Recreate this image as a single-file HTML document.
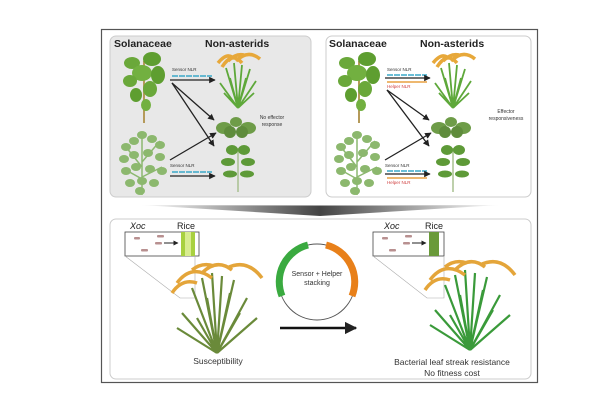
<!DOCTYPE html>
<html><head><meta charset="utf-8"><style>
html,body{margin:0;padding:0;background:#fff;}
svg{display:block;font-family:"Liberation Sans",Arial,sans-serif;}
</style></head><body>
<svg width="615" height="417" viewBox="0 0 615 417" xmlns="http://www.w3.org/2000/svg">
<defs>
<marker id="ah" viewBox="0 0 10 10" refX="9" refY="5" markerWidth="5" markerHeight="5" orient="auto"><path d="M0,0L10,5L0,10z" fill="#222"/></marker>
<linearGradient id="wedge" x1="0" x2="1"><stop offset="0" stop-color="#fff"/><stop offset="0.5" stop-color="#222"/><stop offset="1" stop-color="#fff"/></linearGradient>
<g id="tree">
 <line x1="22" y1="10" x2="22" y2="72" stroke="#b59a5a" stroke-width="2"/>
 <ellipse cx="10" cy="12" rx="8" ry="6" fill="#6aa83a"/><ellipse cx="30" cy="8" rx="9" ry="7" fill="#5e9e30"/>
 <ellipse cx="20" cy="22" rx="10" ry="8" fill="#72b040"/><ellipse cx="36" cy="24" rx="7" ry="9" fill="#5e9e30"/>
 <ellipse cx="8" cy="30" rx="7" ry="6" fill="#6aa83a"/><ellipse cx="28" cy="38" rx="7" ry="8" fill="#6aa83a"/>
 <ellipse cx="14" cy="44" rx="6" ry="7" fill="#5e9e30"/><ellipse cx="24" cy="54" rx="5" ry="6" fill="#72b040"/>
</g>
<g id="bush">
 <path d="M22,68 L22,10 M22,40 L6,20 M22,35 L40,14 M22,52 L4,42 M22,50 L42,40" stroke="#8cb870" stroke-width="1.5"/>
 <g fill="#8cb86e">
 <ellipse cx="6" cy="20" rx="5" ry="4"/><ellipse cx="14" cy="14" rx="5" ry="4"/><ellipse cx="22" cy="8" rx="5" ry="4"/><ellipse cx="32" cy="12" rx="5" ry="4"/><ellipse cx="40" cy="18" rx="5" ry="4"/>
 <ellipse cx="4" cy="32" rx="5" ry="4"/><ellipse cx="14" cy="28" rx="5" ry="4"/><ellipse cx="28" cy="26" rx="5" ry="4"/><ellipse cx="40" cy="30" rx="5" ry="4"/>
 <ellipse cx="6" cy="44" rx="5" ry="4"/><ellipse cx="16" cy="40" rx="5" ry="4"/><ellipse cx="30" cy="42" rx="5" ry="4"/><ellipse cx="42" cy="44" rx="5" ry="4"/>
 <ellipse cx="10" cy="56" rx="5" ry="4"/><ellipse cx="22" cy="54" rx="5" ry="4"/><ellipse cx="34" cy="56" rx="5" ry="4"/><ellipse cx="20" cy="64" rx="5" ry="4"/>
 </g>
</g>
<g id="rice">
 <path d="M22,55 L10,15 M22,55 L18,10 M22,55 L26,12 M22,55 L34,16 M22,55 L40,28 M22,55 L4,30 M22,55 L14,25 M22,55 L30,25 M22,55 L8,40 M22,55 L38,40" stroke="#5ea83a" stroke-width="1.8" fill="none"/>
 <path d="M6,14 Q16,-2 26,10 M20,8 Q32,-4 44,6 M2,10 Q10,0 16,4 M12,8 Q20,0 28,2" stroke="#e7a83a" stroke-width="3.5" fill="none"/>
</g>
<g id="round">
 <ellipse cx="6" cy="10" rx="8" ry="6" fill="#6e9c48"/><ellipse cx="30" cy="10" rx="8" ry="6" fill="#6e9c48"/>
 <ellipse cx="18" cy="4" rx="6" ry="5" fill="#6e9c48"/><ellipse cx="12" cy="14" rx="6" ry="6" fill="#5f8c3c"/><ellipse cx="24" cy="14" rx="6" ry="6" fill="#5f8c3c"/>
</g>
<g id="soy">
 <line x1="16" y1="4" x2="16" y2="48" stroke="#a8c090" stroke-width="1.5"/>
 <ellipse cx="10" cy="6" rx="6" ry="5" fill="#5e9a38"/><ellipse cx="22" cy="6" rx="6" ry="5" fill="#5e9a38"/>
 <ellipse cx="6" cy="18" rx="7" ry="4" fill="#5e9a38"/><ellipse cx="26" cy="18" rx="7" ry="4" fill="#5e9a38"/>
 <ellipse cx="8" cy="30" rx="7" ry="3.5" fill="#5e9a38"/><ellipse cx="25" cy="30" rx="7" ry="3.5" fill="#5e9a38"/>
</g>
<g id="bigrice">
 <path d="M45,95 L20,30 M45,95 L30,20 M45,95 L40,15 M45,95 L50,18 M45,95 L62,22 M45,95 L75,40 M45,95 L10,55 M45,95 L85,60 M45,95 L5,70 M45,95 L35,40 M45,95 L58,35 M45,95 L25,60 M45,95 L68,55" stroke-width="2.2" fill="none"/>
 <path d="M5,25 Q20,5 40,20 M30,15 Q45,0 60,12 M55,10 Q75,0 90,20 M0,35 Q10,20 25,25 M20,12 Q30,4 42,8" stroke="#e4a53a" stroke-width="3.5" fill="none"/>
</g>
</defs>

<rect x="101.5" y="29.5" width="436" height="353" fill="#fff" stroke="#555" stroke-width="1.2"/>

<rect x="110" y="36" width="201" height="161" rx="6" fill="#e8e8e8" stroke="#ccc"/>
<text x="114" y="47" font-size="10.5" font-weight="bold" fill="#222">Solanaceae</text>
<text x="205" y="47" font-size="10.5" font-weight="bold" fill="#222">Non-asterids</text>
<use href="#tree" x="122" y="51"/>
<use href="#bush" x="120" y="127"/>
<use href="#rice" x="216" y="53"/>
<use href="#round" x="218" y="118"/>
<use href="#soy" x="222" y="144"/>
<text x="172" y="71" font-size="4.5" fill="#333">Sensor NLR</text>
<line x1="172" y1="76" x2="212" y2="76" stroke="#3aa8c8" stroke-width="1.5" stroke-dasharray="6,1"/>
<line x1="170" y1="80" x2="215" y2="80" stroke="#222" stroke-width="1.3" marker-end="url(#ah)"/>
<line x1="172" y1="83" x2="214" y2="120" stroke="#222" stroke-width="1.3" marker-end="url(#ah)"/>
<line x1="172" y1="83" x2="214" y2="146" stroke="#222" stroke-width="1.3" marker-end="url(#ah)"/>
<line x1="170" y1="160" x2="216" y2="133" stroke="#222" stroke-width="1.3" marker-end="url(#ah)"/>
<text x="170" y="167" font-size="4.5" fill="#333">Sensor NLR</text>
<line x1="172" y1="172" x2="212" y2="172" stroke="#3aa8c8" stroke-width="1.5" stroke-dasharray="6,1"/>
<line x1="170" y1="176" x2="215" y2="176" stroke="#222" stroke-width="1.3" marker-end="url(#ah)"/>
<text x="272" y="119" font-size="5" fill="#333" text-anchor="middle">No effector</text>
<text x="272" y="126" font-size="5" fill="#333" text-anchor="middle">response</text>

<rect x="326" y="36" width="205" height="161" rx="6" fill="#fff" stroke="#ccc"/>
<text x="329" y="47" font-size="10.5" font-weight="bold" fill="#222">Solanaceae</text>
<text x="420" y="47" font-size="10.5" font-weight="bold" fill="#222">Non-asterids</text>
<use href="#tree" x="337" y="51"/>
<use href="#bush" x="335" y="127"/>
<use href="#rice" x="431" y="53"/>
<use href="#round" x="433" y="118"/>
<use href="#soy" x="437" y="144"/>
<text x="387" y="71" font-size="4.5" fill="#333">Sensor NLR</text>
<line x1="387" y1="75" x2="427" y2="75" stroke="#3aa8c8" stroke-width="1.5" stroke-dasharray="6,1"/>
<line x1="385" y1="78" x2="430" y2="78" stroke="#222" stroke-width="1.3" marker-end="url(#ah)"/>
<line x1="387" y1="82" x2="427" y2="82" stroke="#e8a040" stroke-width="1.5"/>
<text x="387" y="88" font-size="4.5" fill="#d04040">Helper NLR</text>
<line x1="387" y1="90" x2="429" y2="120" stroke="#222" stroke-width="1.3" marker-end="url(#ah)"/>
<line x1="387" y1="90" x2="429" y2="146" stroke="#222" stroke-width="1.3" marker-end="url(#ah)"/>
<line x1="385" y1="160" x2="431" y2="133" stroke="#222" stroke-width="1.3" marker-end="url(#ah)"/>
<text x="385" y="167" font-size="4.5" fill="#333">Sensor NLR</text>
<line x1="387" y1="171" x2="427" y2="171" stroke="#3aa8c8" stroke-width="1.5" stroke-dasharray="6,1"/>
<line x1="385" y1="174" x2="430" y2="174" stroke="#222" stroke-width="1.3" marker-end="url(#ah)"/>
<line x1="387" y1="178" x2="427" y2="178" stroke="#e8a040" stroke-width="1.5"/>
<text x="387" y="184" font-size="4.5" fill="#d04040">Helper NLR</text>
<text x="506" y="113" font-size="5" fill="#333" text-anchor="middle">Effector</text>
<text x="506" y="120" font-size="5" fill="#333" text-anchor="middle">responsiveness</text>

<path d="M140,205 Q320,206 500,205 L320,216 Z" fill="url(#wedge)" opacity="0.85"/>

<rect x="110" y="219" width="421" height="160" rx="6" fill="#fff" stroke="#ccc"/>
<text x="130" y="229" font-size="9" font-style="italic" fill="#222">Xoc</text>
<text x="177" y="229" font-size="9" fill="#222">Rice</text>
<rect x="125" y="232" width="74" height="24" fill="#fff" stroke="#444" stroke-width="0.8"/>
<rect x="181" y="232" width="14" height="24" fill="#a8d040"/>
<rect x="185" y="232" width="6" height="24" fill="#d8ec90"/>
<g fill="#b89090"><rect x="134" y="237" width="6" height="2.5" rx="1"/><rect x="157" y="235" width="7" height="2.5" rx="1"/><rect x="155" y="242" width="7" height="2.5" rx="1"/><rect x="141" y="249" width="7" height="2.5" rx="1"/></g>
<line x1="164" y1="243" x2="178" y2="243" stroke="#222" stroke-width="1" marker-end="url(#ah)"/>
<polyline points="125,256 180,298 195,298 195,256" fill="none" stroke="#aaa" stroke-width="0.6"/>
<use href="#bigrice" x="172" y="258" stroke="#6a8a3a"/>
<text x="218" y="364" font-size="8.5" fill="#333" text-anchor="middle">Susceptibility</text>

<circle cx="317" cy="282" r="38" fill="none" stroke="#555" stroke-width="1"/>
<path d="M282,296 A38,38 0 0 1 308,245" fill="none" stroke="#3aaa40" stroke-width="7"/>
<path d="M326,245 A38,38 0 0 1 352,296" fill="none" stroke="#e8801a" stroke-width="7"/>
<text x="317" y="276" font-size="7" fill="#333" text-anchor="middle">Sensor + Helper</text>
<text x="317" y="285" font-size="7" fill="#333" text-anchor="middle">stacking</text>
<line x1="280" y1="328" x2="356" y2="328" stroke="#111" stroke-width="2.5" marker-end="url(#ah)"/>

<text x="384" y="229" font-size="9" font-style="italic" fill="#222">Xoc</text>
<text x="425" y="229" font-size="9" fill="#222">Rice</text>
<rect x="373" y="232" width="71" height="24" fill="#fff" stroke="#444" stroke-width="0.8"/>
<rect x="429" y="232" width="10" height="24" fill="#6a9a3a"/>
<g fill="#b89090"><rect x="382" y="237" width="6" height="2.5" rx="1"/><rect x="405" y="235" width="7" height="2.5" rx="1"/><rect x="403" y="242" width="7" height="2.5" rx="1"/><rect x="389" y="249" width="7" height="2.5" rx="1"/></g>
<line x1="412" y1="243" x2="426" y2="243" stroke="#222" stroke-width="1" marker-end="url(#ah)"/>
<polyline points="373,256 427,298 444,298 444,256" fill="none" stroke="#aaa" stroke-width="0.6"/>
<use href="#bigrice" x="425" y="255" stroke="#3a9a3a"/>
<text x="452" y="365" font-size="8.5" fill="#333" text-anchor="middle">Bacterial leaf streak resistance</text>
<text x="452" y="376" font-size="8.5" fill="#333" text-anchor="middle">No fitness cost</text>
</svg>
</body></html>
